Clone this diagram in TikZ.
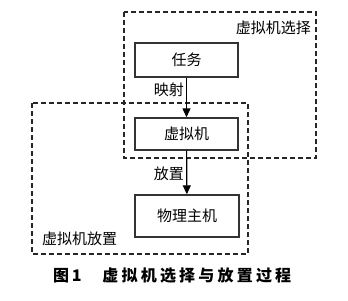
\documentclass[tikz,border=0pt]{standalone}
\usepackage{fontspec}
\setmainfont{Noto Sans CJK SC}
\usetikzlibrary{arrows.meta}
\begin{document}
\begin{tikzpicture}[x=1pt,y=-1pt,
  box/.style={draw=black!80,line width=1.4pt,fill=white,inner sep=0pt,font=\fontsize{15}{17}\selectfont},
  group/.style={draw=black!85,dash pattern=on 5pt off 3pt,line width=1.2pt},
  lbl/.style={font=\fontsize{15}{17}\selectfont,inner sep=0pt},
  conn/.style={draw=black,line width=1.2pt,-{Triangle[length=9pt,width=8pt]}}]
\useasboundingbox (0,0) rectangle (348,300);
\draw[group] (124,12) rectangle (316,158);
\draw[group] (32,103) rectangle (248,254);
\node[box,minimum width=103pt,minimum height=34pt] (task) at (186.5,60) {任务};
\node[box,minimum width=103pt,minimum height=32pt] (vm) at (186.5,134) {虚拟机};
\node[box,minimum width=104pt,minimum height=42pt] (host) at (187,216) {物理主机};
\draw[conn] (task) -- (vm);
\draw[conn] (vm) -- (host);
\node[lbl,anchor=east] (map) at (184,90) {映射};
\node[lbl,anchor=east] (place) at (184,174) {放置};
\node[lbl,anchor=east] (sel) at (311,28) {虚拟机选择};
\node[lbl,anchor=west] (plc) at (42,239) {虚拟机放置};
\node[inner sep=0pt,anchor=west,font=\fontsize{16}{18}\selectfont\bfseries] (cap) at (53,276) {图\,1\hspace{1.3em}\addfontfeatures{LetterSpace=20}虚拟机选择与放置过程};
\end{tikzpicture}
\end{document}
